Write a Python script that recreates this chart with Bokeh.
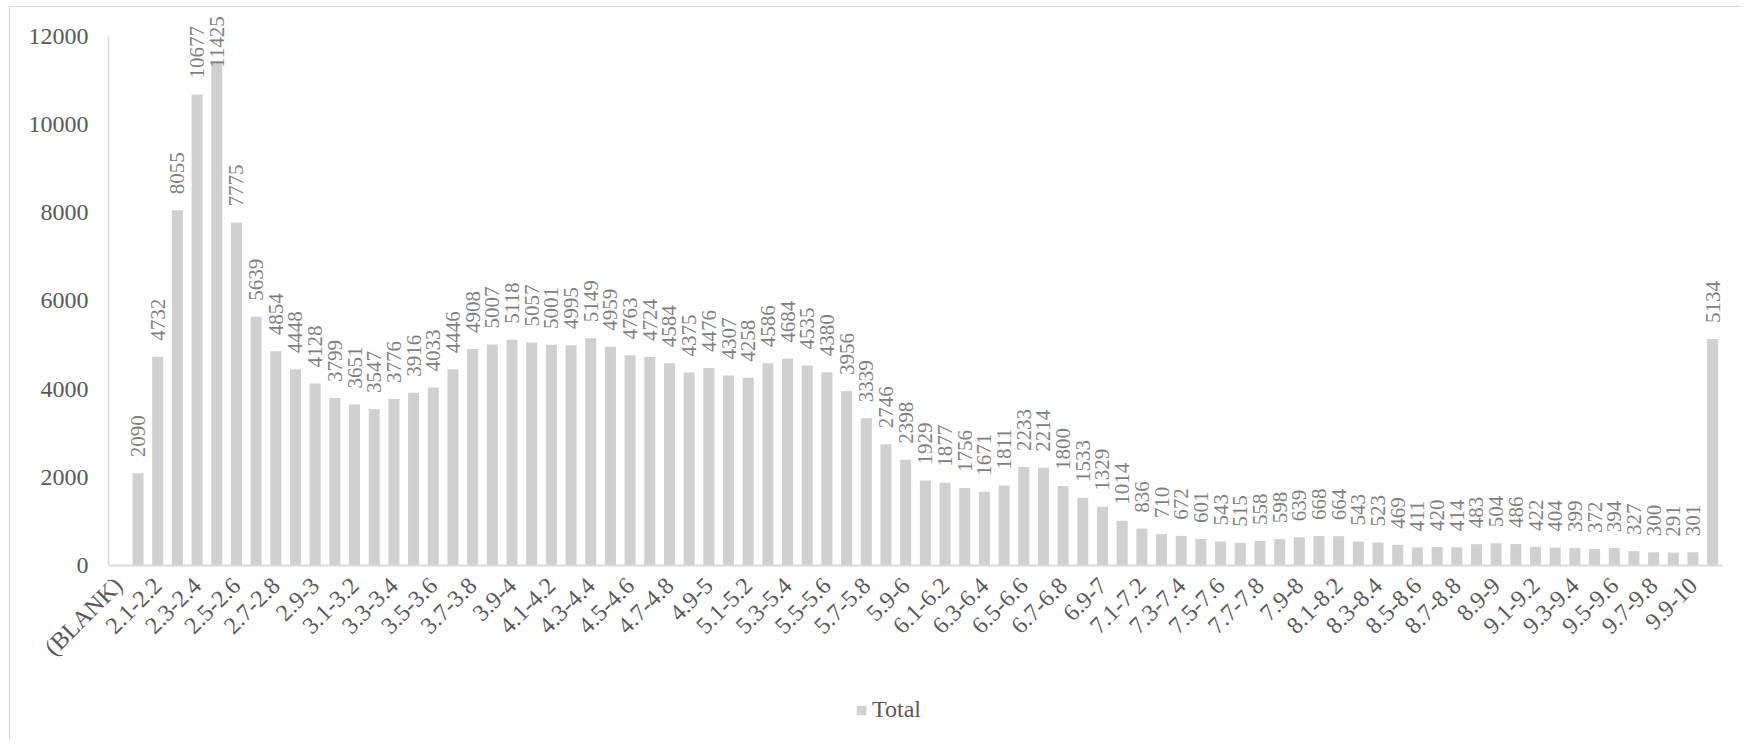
import math
from bokeh.plotting import figure
from bokeh.models import ColumnDataSource, LabelSet, FixedTicker, Range1d, Legend
from bokeh.embed import file_html
from bokeh.resources import INLINE

categories = [
    "(BLANK)", "2-2.1", "2.1-2.2", "2.2-2.3", "2.3-2.4", "2.4-2.5", "2.5-2.6", "2.6-2.7",
    "2.7-2.8", "2.8-2.9", "2.9-3", "3-3.1", "3.1-3.2", "3.2-3.3", "3.3-3.4", "3.4-3.5",
    "3.5-3.6", "3.6-3.7", "3.7-3.8", "3.8-3.9", "3.9-4", "4-4.1", "4.1-4.2", "4.2-4.3",
    "4.3-4.4", "4.4-4.5", "4.5-4.6", "4.6-4.7", "4.7-4.8", "4.8-4.9", "4.9-5", "5-5.1",
    "5.1-5.2", "5.2-5.3", "5.3-5.4", "5.4-5.5", "5.5-5.6", "5.6-5.7", "5.7-5.8", "5.8-5.9",
    "5.9-6", "6-6.1", "6.1-6.2", "6.2-6.3", "6.3-6.4", "6.4-6.5", "6.5-6.6", "6.6-6.7",
    "6.7-6.8", "6.8-6.9", "6.9-7", "7-7.1", "7.1-7.2", "7.2-7.3", "7.3-7.4", "7.4-7.5",
    "7.5-7.6", "7.6-7.7", "7.7-7.8", "7.8-7.9", "7.9-8", "8-8.1", "8.1-8.2", "8.2-8.3",
    "8.3-8.4", "8.4-8.5", "8.5-8.6", "8.6-8.7", "8.7-8.8", "8.8-8.9", "8.9-9", "9-9.1",
    "9.1-9.2", "9.2-9.3", "9.3-9.4", "9.4-9.5", "9.5-9.6", "9.6-9.7", "9.7-9.8", "9.8-9.9",
    "9.9-10", ">10",
]

totals = [
    None, 2090, 4732, 8055, 10677, 11425, 7775, 5639, 4854, 4448, 4128, 3799, 3651, 3547,
    3776, 3916, 4033, 4446, 4908, 5007, 5118, 5057, 5001, 4995, 5149, 4959, 4763, 4724,
    4584, 4375, 4476, 4307, 4258, 4586, 4684, 4535, 4380, 3956, 3339, 2746, 2398, 1929,
    1877, 1756, 1671, 1811, 2233, 2214, 1800, 1533, 1329, 1014, 836, 710, 672, 601, 543,
    515, 558, 598, 639, 668, 664, 543, 523, 469, 411, 420, 414, 483, 504, 486, 422, 404,
    399, 372, 394, 327, 300, 291, 301, 5134,
]

y_ticks = [0, 2000, 4000, 6000, 8000, 10000, 12000]
series_name = "Total"

FONT = "Liberation Serif"
W, H = 1733, 735
YMAX = 12000
N = len(categories)

# pixel geometry of the plotting area inside the canvas
AX_LEFT, AX_RIGHT = 98.0, 1712.0      # x axis span
AX_TOP, AX_ZERO = 28.6, 558.0         # rows of 12000 and 0
cw = (AX_RIGHT - AX_LEFT) / N
ppu = (AX_ZERO - AX_TOP) / YMAX
x_start = -0.5 - AX_LEFT / cw
x_end = x_start + W / cw
y_end = AX_ZERO / ppu
y_start = -(H - AX_ZERO) / ppu

p = figure(
    width=W, height=H, output_backend="svg", toolbar_location=None,
    x_range=Range1d(x_start, x_end), y_range=Range1d(y_start, y_end),
    min_border_left=0, min_border_right=0, min_border_top=0, min_border_bottom=0,
    margin=(6, 0, 0, 9),
    styles={"border-top": "1px solid #d9d9d9", "border-left": "1px solid #d9d9d9"},
)
p.outline_line_color = None
p.xgrid.visible = False
p.ygrid.visible = False

idx = [i for i, v in enumerate(totals) if v is not None]
vals = [totals[i] for i in idx]

# data-label offsets: keep every label inside the chart area
offs = []
for v in vals:
    bar_top = (y_end - v) * ppu
    length = len(str(v)) * 10.5
    start = bar_top - 16
    if start - length < 8:
        start = 8 + length
    offs.append(bar_top - start)

src = ColumnDataSource(dict(x=idx, top=vals, lab=[str(v) for v in vals], off=offs))

bars = p.vbar(x="x", top="top", width=0.56, source=src, fill_color="#d0d0d0",
              line_color=None)

labels = LabelSet(x="x", y="top", text="lab", source=src, angle=math.pi / 2,
                  text_align="left", text_baseline="middle", y_offset="off",
                  text_font=FONT, text_font_size="21px", text_color="#7f7f7f")
p.add_layout(labels)

# y axis
ya = p.yaxis[0]
ya.fixed_location = -0.5
ya.ticker = FixedTicker(ticks=y_ticks)
ya.bounds = (0, YMAX)
ya.major_tick_in = 0
ya.major_tick_out = 0
ya.minor_tick_in = 0
ya.minor_tick_out = 0
ya.axis_line_color = "#d9d9d9"
ya.axis_line_width = 1.5
ya.major_label_standoff = 20
ya.major_label_text_font = FONT
ya.major_label_text_font_size = "24px"
ya.major_label_text_color = "#595959"

# x axis
xa = p.xaxis[0]
xa.fixed_location = 0
shown = list(range(0, N - 1, 2))
xa.ticker = FixedTicker(ticks=shown)
xa.bounds = (-0.5, N - 0.5)
xa.major_label_overrides = {i: categories[i] for i in shown}
xa.major_label_orientation = math.pi / 4
xa.major_tick_in = 0
xa.major_tick_out = 0
xa.minor_tick_in = 0
xa.minor_tick_out = 0
xa.axis_line_color = "#d9d9d9"
xa.axis_line_width = 2
xa.major_label_standoff = 16
xa.major_label_text_font = FONT
xa.major_label_text_font_size = "24px"
xa.major_label_text_color = "#595959"

lg = Legend(items=[(series_name, [bars])], location=(845, 19), orientation="horizontal",
            padding=0, margin=0, border_line_color=None, background_fill_alpha=0,
            glyph_width=12, glyph_height=12, label_standoff=5, label_text_font=FONT,
            label_text_font_size="24px", label_text_color="#595959")
p.add_layout(lg, "center")

open("out.html", "w").write(file_html(p, INLINE))
